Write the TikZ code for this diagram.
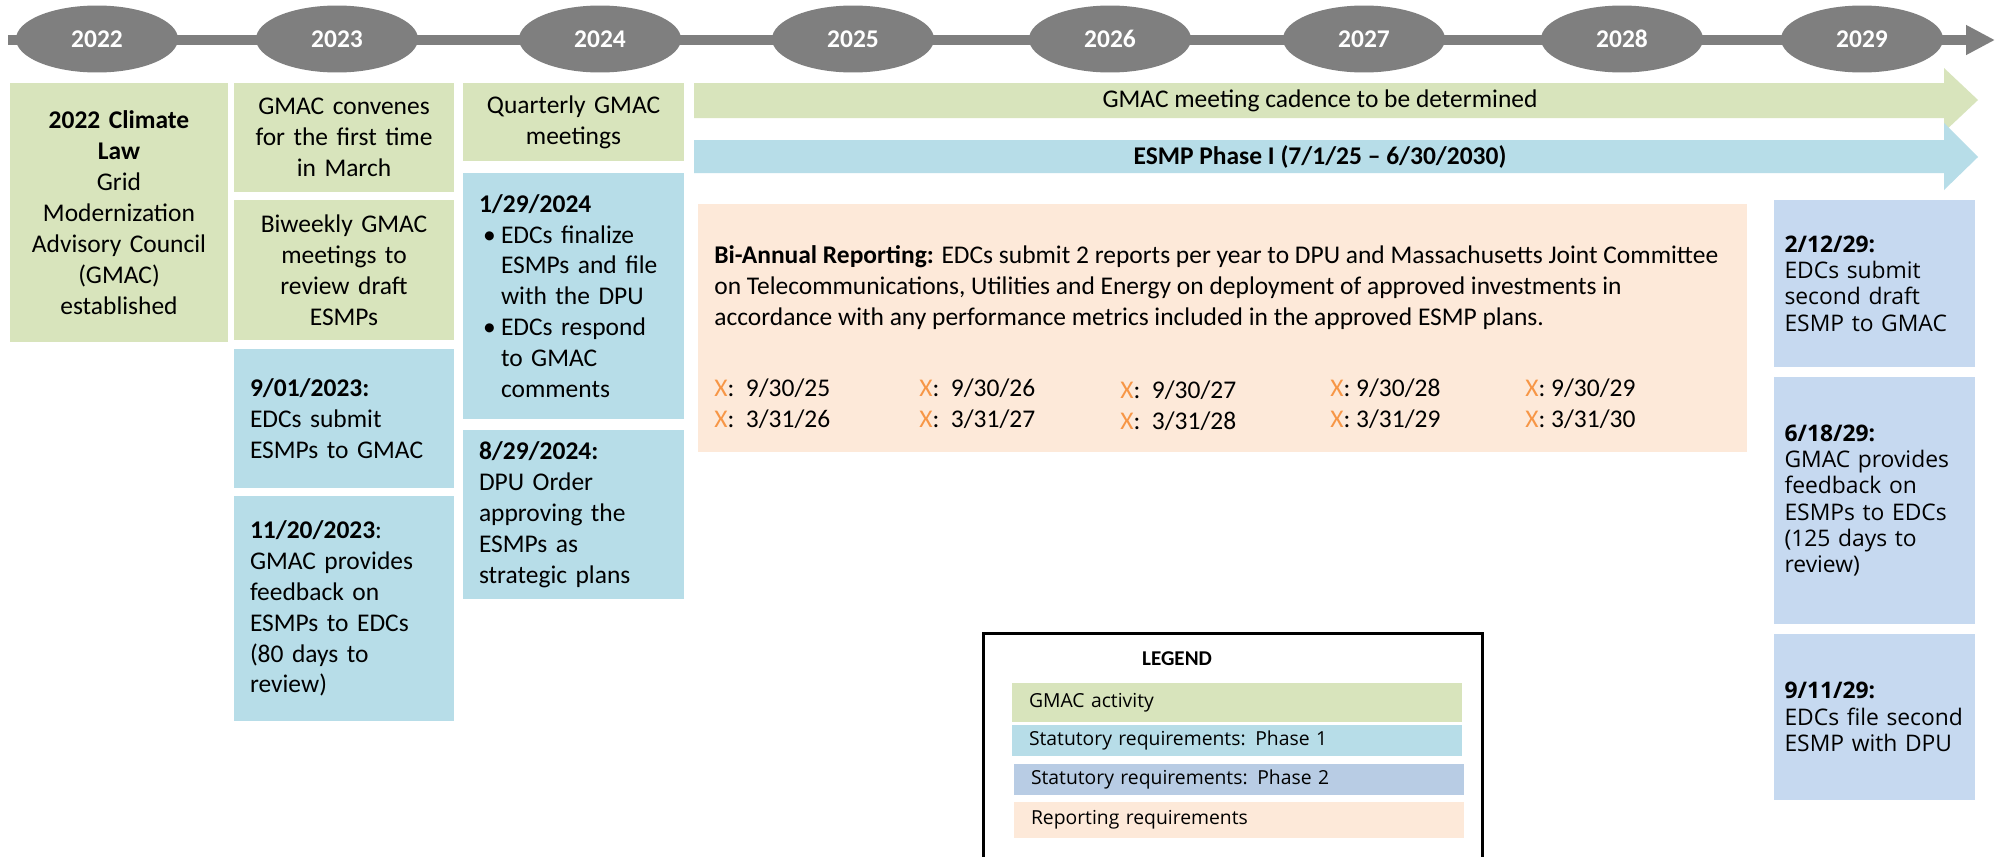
\documentclass[tikz,border=0pt]{standalone}
\usepackage{fontspec}
\setmainfont{Carlito}
\newfontfamily\segoe{Open Sans}
\usetikzlibrary{shapes.geometric}
\usetikzlibrary{arrows.meta}
\definecolor{tlgray}{HTML}{7F7F7F}
\definecolor{gmacgreen}{HTML}{D8E4BC}
\definecolor{phaseblue}{HTML}{B7DDE8}
\definecolor{phasetwoblue}{HTML}{C6D9F0}
\definecolor{legendblue}{HTML}{B8CCE4}
\definecolor{reportorange}{HTML}{FDE9D9}
\definecolor{xorange}{HTML}{F79646}

\begin{document}
\begin{tikzpicture}[x=0.02cm, y=-0.02cm,
year/.style={ellipse, fill=tlgray, minimum width=3.24cm, minimum height=1.34cm, inner sep=0pt, text=white, font=\bfseries\fontsize{14.5}{17}\selectfont},
gmac/.style={fill=gmacgreen, align=center, inner xsep=0.2cm, font=\fontsize{14.5}{17.6}\selectfont},
phaseone/.style={fill=phaseblue, align=left, inner xsep=0.32cm, font=\fontsize{14.5}{17.6}\selectfont},
phasetwo/.style={fill=phasetwoblue, align=left, inner xsep=0.21cm, text width=3.6cm, font=\segoe\fontsize{13}{15}\selectfont},
legendrow/.style={minimum width=9cm, text width=8.32cm, inner xsep=0.34cm, align=left, font=\segoe\fontsize{11}{13}\selectfont},
reportdate/.style={anchor=west, inner sep=0pt, font=\fontsize{14.5}{17.6}\selectfont}]

\path[use as bounding box, fill=white] (0,0) rectangle (2001,856);

\coordinate (tlstart) at (8,40);
\coordinate (tlend) at (1995,40);
\draw[tlgray, line width=0.2cm, -{Triangle[length=0.58cm, width=0.56cm]}] (tlstart) -- (tlend);

\node[year] (y2022) at (97,39) {2022};
\node[year] (y2023) at (337,39) {2023};
\node[year] (y2024) at (600,39) {2024};
\node[year] (y2025) at (853,39) {2025};
\node[year] (y2026) at (1110,39) {2026};
\node[year] (y2027) at (1364,39) {2027};
\node[year] (y2028) at (1622,39) {2028};
\node[year] (y2029) at (1862,39) {2029};

\node[gmac, text width=3.96cm, minimum height=5.18cm] (law) at (119,212.5)
{\textbf{2022 Climate}\\\textbf{Law}\\Grid\\Modernization\\Advisory Council\\(GMAC)\\established};

\node[gmac, text width=4cm, minimum height=2.18cm] (convene) at (344,137.5)
{GMAC convenes\\for the first time\\in March};
\node[gmac, text width=4cm, minimum height=2.8cm] (biweekly) at (344,270)
{Biweekly GMAC\\meetings to\\review draft\\ESMPs};
\node[phaseone, text width=3.76cm, minimum height=2.78cm] (submit23) at (344,418.5)
{\textbf{9/01/2023:}\\EDCs submit\\ESMPs to GMAC};
\node[phaseone, text width=3.76cm, minimum height=4.5cm] (feedback23) at (344,608.5)
{\textbf{11/20/2023}:\\GMAC provides\\feedback on\\ESMPs to EDCs\\(80 days to\\review)};

\node[gmac, text width=4.02cm, minimum height=1.56cm] (quarterly) at (573.5,122)
{Quarterly GMAC\\meetings};
\node[phaseone, text width=3.78cm, minimum height=4.92cm] (finalize24) at (573.5,296)
{\textbf{1/29/2024}\\\makebox[0.44cm][l]{\hspace{0.08cm}\textbullet}EDCs finalize\\\hspace*{0.44cm}ESMPs and file\\\hspace*{0.44cm}with the DPU\\\makebox[0.44cm][l]{\hspace{0.08cm}\textbullet}EDCs respond\\\hspace*{0.44cm}to GMAC\\\hspace*{0.44cm}comments};
\node[phaseone, text width=3.78cm, minimum height=3.38cm] (order24) at (573.5,514.5)
{\textbf{8/29/2024:}\\DPU Order\\approving the\\ESMPs as\\strategic plans};

\fill[gmacgreen] (694,83) -- (1944,83) -- (1944,68) -- (1978,100) -- (1944,132) -- (1944,118) -- (694,118) -- cycle;
\node[font=\fontsize{14.5}{17.6}\selectfont] (cadence) at (1320,100.5) {GMAC meeting cadence to be determined};
\fill[phaseblue] (694,140) -- (1944,140) -- (1944,123) -- (1978,157) -- (1944,190) -- (1944,173) -- (694,173) -- cycle;
\node[font=\bfseries\fontsize{14.5}{17.6}\selectfont] (phaseI) at (1320,157) {ESMP Phase I (7/1/25 -- 6/30/2030)};

\node[fill=reportorange, minimum width=20.98cm, minimum height=4.96cm] (report) at (1222.5,328) {};
\node[anchor=west, align=left, inner sep=0pt, font=\fontsize{14.5}{17.6}\selectfont] (reportnote) at (714,288)
{\textbf{Bi-Annual Reporting:} EDCs submit 2 reports per year to DPU and Massachusetts Joint Committee\\on Telecommunications, Utilities and Energy on deployment of approved investments in\\accordance with any performance metrics included in the approved ESMP plans.};
\node[reportdate] (r25) at (714,388) {\textcolor{xorange}{X}:\ \ 9/30/25};
\node[reportdate] (r26a) at (714,419) {\textcolor{xorange}{X}:\ \ 3/31/26};
\node[reportdate] (r26b) at (919,388) {\textcolor{xorange}{X}:\ \ 9/30/26};
\node[reportdate] (r27a) at (919,419) {\textcolor{xorange}{X}:\ \ 3/31/27};
\node[reportdate] (r27b) at (1120,390) {\textcolor{xorange}{X}:\ \ 9/30/27};
\node[reportdate] (r28a) at (1120,421) {\textcolor{xorange}{X}:\ \ 3/31/28};
\node[reportdate] (r28b) at (1330,388) {\textcolor{xorange}{X}: 9/30/28};
\node[reportdate] (r29a) at (1330,419) {\textcolor{xorange}{X}: 3/31/29};
\node[reportdate] (r29b) at (1525,388) {\textcolor{xorange}{X}: 9/30/29};
\node[reportdate] (r30) at (1525,419) {\textcolor{xorange}{X}: 3/31/30};

\node[phasetwo, minimum height=3.34cm] (draft29) at (1874.5,283.5)
{\textbf{2/12/29:}\\EDCs submit\\second draft\\ESMP to GMAC};
\node[phasetwo, minimum height=4.94cm] (review29) at (1874.5,500.5)
{\textbf{6/18/29:}\\GMAC provides\\feedback on\\ESMPs to EDCs\\(125 days to\\review)};
\node[phasetwo, minimum height=3.32cm] (file29) at (1874.5,717)
{\textbf{9/11/29:}\\EDCs file second\\ESMP with DPU\\[0.35cm]};

\draw[line width=0.06cm] (983,860) -- (983,633) -- (1482,633) -- (1482,860);
\node[font=\bfseries\fontsize{12}{14}\selectfont] (legendtitle) at (1177,659) {LEGEND};
\node[legendrow, fill=gmacgreen, minimum height=0.78cm] (lgmac) at (1237,702.5) {GMAC activity};
\node[legendrow, fill=phaseblue, minimum height=0.62cm] (lphaseone) at (1237,740.5) {Statutory requirements: Phase 1};
\node[legendrow, fill=legendblue, minimum height=0.62cm] (lphasetwo) at (1239,779.5) {Statutory requirements: Phase 2};
\node[legendrow, fill=reportorange, minimum height=0.72cm] (lreport) at (1239,820) {Reporting requirements};

\end{tikzpicture}
\end{document}
